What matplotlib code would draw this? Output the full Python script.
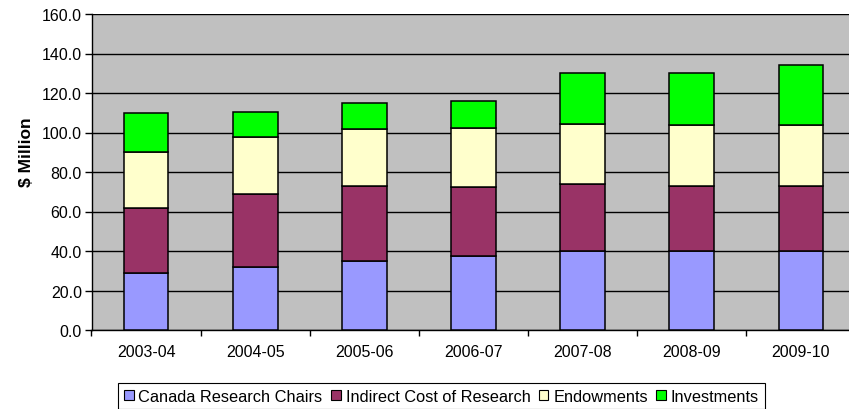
import matplotlib
matplotlib.use("Agg")
import matplotlib.pyplot as plt
from matplotlib.patches import Patch
import numpy as np

plt.rcParams['font.family'] = ['Liberation Sans', 'DejaVu Sans']

years = ["2003-04", "2004-05", "2005-06", "2006-07", "2007-08", "2008-09", "2009-10"]
canada_research_chairs = [29.0, 32.1, 34.9, 37.3, 40.0, 40.0, 40.0]
indirect_cost = [32.8, 36.9, 38.0, 34.9, 33.9, 32.9, 32.9]
endowments = [28.5, 28.9, 29.0, 30.2, 30.6, 30.9, 30.9]
investments = [19.4, 12.5, 13.0, 13.7, 25.8, 26.5, 30.4]

series_names = ["Canada Research Chairs", "Indirect Cost of Research", "Endowments", "Investments"]
series_colors = ["#9999FF", "#993366", "#FFFFCC", "#00FF00"]

W, H = 849, 410
fig = plt.figure(figsize=(W / 100, H / 100), dpi=100)
fig.patch.set_facecolor("white")

left, right, top, bottom = 91.5, 855.5, 15, 331
ax = fig.add_axes([left / W, 1 - bottom / H, (right - left) / W, (bottom - top) / H])
ax.set_facecolor("#C0C0C0")

x = np.arange(len(years))
base = np.zeros(len(years))
for vals, color in zip([canada_research_chairs, indirect_cost, endowments, investments], series_colors):
    ax.bar(x, vals, width=0.41, bottom=base, color=color, edgecolor="black", linewidth=1.1, zorder=3)
    base = base + np.array(vals)

ax.set_xlim(-0.5, len(years) - 0.5)
ax.set_ylim(0, 160)
ax.set_yticks(np.arange(0, 161, 20))
ax.set_yticklabels([f"{v:.1f}" for v in np.arange(0, 161, 20)], fontsize=11.5)
ax.yaxis.grid(True, color="black", linewidth=1.0, zorder=1)
ax.set_axisbelow(True)

ax.set_xticks(x)
ax.set_xticklabels(years, fontsize=11.5)
ax.set_xticks(np.arange(-0.5, len(years), 1.0), minor=True)
ax.tick_params(axis="x", which="major", length=0, pad=10)
ax.tick_params(axis="x", which="minor", length=4, width=1, color="black", direction="out")
ax.tick_params(axis="y", length=5, width=1, color="black", direction="out", pad=2)

for side in ["top", "right"]:
    ax.spines[side].set_visible(False)
ax.spines["left"].set_color("black")
ax.spines["bottom"].set_color("black")
ax.spines["left"].set_linewidth(1.0)
ax.spines["bottom"].set_linewidth(1.0)

fig.text(27 / W, 1 - 152 / H, "$ Million", rotation=90, ha="center", va="center",
         fontsize=12.5, fontweight="bold")

handles = [Patch(facecolor=c, edgecolor="black", linewidth=0.8) for c in series_colors]
leg = fig.legend(handles, series_names, loc="upper left",
                 bbox_to_anchor=(118 / W, 1 - 384 / H), ncol=4, fontsize=11.8,
                 frameon=True, fancybox=False, edgecolor="black", framealpha=1,
                 handlelength=0.6, handleheight=0.6, handletextpad=0.3,
                 columnspacing=0.5, borderpad=0.35, borderaxespad=0)
leg.get_frame().set_linewidth(0.8)

fig.savefig("out.png", dpi=100)
